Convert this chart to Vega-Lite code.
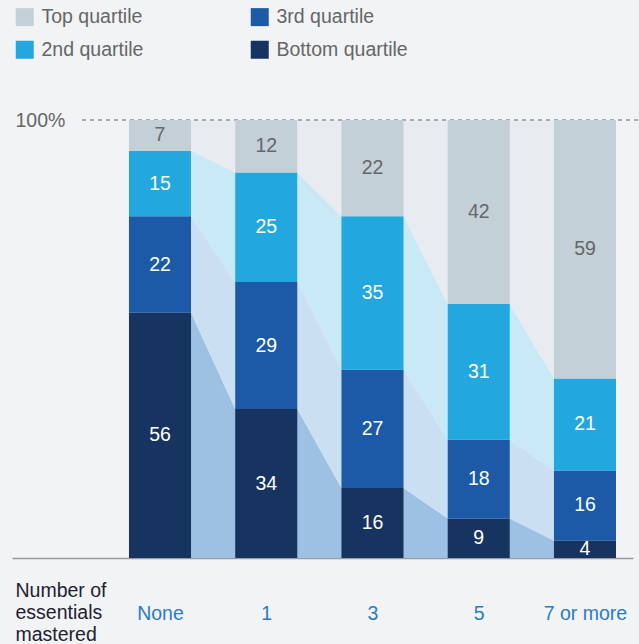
{
  "$schema": "https://vega.github.io/schema/vega-lite/v6.json",
  "width": 621,
  "height": 438,
  "autosize": "none",
  "padding": {"left": 12, "top": 120, "right": 6, "bottom": 86},
  "background": "#f2f3f5",
  "config": {"view": {"stroke": null}, "font": "Liberation Sans"},
  "data": {
    "values": [
      {"cat": "None", "i": 0, "q": "Bottom quartile", "r": 1, "v": 56},
      {"cat": "None", "i": 0, "q": "3rd quartile", "r": 2, "v": 22},
      {"cat": "None", "i": 0, "q": "2nd quartile", "r": 3, "v": 15},
      {"cat": "None", "i": 0, "q": "Top quartile", "r": 4, "v": 7},
      {"cat": "1", "i": 1, "q": "Bottom quartile", "r": 1, "v": 34},
      {"cat": "1", "i": 1, "q": "3rd quartile", "r": 2, "v": 29},
      {"cat": "1", "i": 1, "q": "2nd quartile", "r": 3, "v": 25},
      {"cat": "1", "i": 1, "q": "Top quartile", "r": 4, "v": 12},
      {"cat": "3", "i": 2, "q": "Bottom quartile", "r": 1, "v": 16},
      {"cat": "3", "i": 2, "q": "3rd quartile", "r": 2, "v": 27},
      {"cat": "3", "i": 2, "q": "2nd quartile", "r": 3, "v": 35},
      {"cat": "3", "i": 2, "q": "Top quartile", "r": 4, "v": 22},
      {"cat": "5", "i": 3, "q": "Bottom quartile", "r": 1, "v": 9},
      {"cat": "5", "i": 3, "q": "3rd quartile", "r": 2, "v": 18},
      {"cat": "5", "i": 3, "q": "2nd quartile", "r": 3, "v": 31},
      {"cat": "5", "i": 3, "q": "Top quartile", "r": 4, "v": 42},
      {"cat": "7 or more", "i": 4, "q": "Bottom quartile", "r": 1, "v": 4},
      {"cat": "7 or more", "i": 4, "q": "3rd quartile", "r": 2, "v": 16},
      {"cat": "7 or more", "i": 4, "q": "2nd quartile", "r": 3, "v": 21},
      {"cat": "7 or more", "i": 4, "q": "Top quartile", "r": 4, "v": 59}
    ]
  },
  "transform": [
    {"stack": "v", "groupby": ["cat"], "sort": [{"field": "r", "order": "ascending"}], "as": ["y0", "y1"]},
    {"calculate": "datum.i - 0.292", "as": "xl"},
    {"calculate": "datum.i + 0.292", "as": "xr"},
    {"calculate": "(datum.y0 + datum.y1) / 2", "as": "ym"}
  ],
  "layer": [
    {
      "transform": [{"fold": ["xl", "xr"], "as": ["side", "xe"]}],
      "mark": {"type": "area", "opacity": 1},
      "encoding": {
        "x": {
          "field": "xe", "type": "quantitative",
          "scale": {"domain": [-1.393, 4.452], "nice": false, "zero": false},
          "axis": {
            "values": [0, 1, 2, 3, 4],
            "labelExpr": "['None','1','3','5','7 or more'][datum.value]",
            "ticks": false, "grid": false,
            "domainColor": "#9a9a9a", "domainWidth": 1.5,
            "labelPadding": 46, "labelFontSize": 19.5, "labelColor": "#2b7bc6",
            "title": ["Number of", "essentials", "mastered"],
            "titleX": 3, "titleY": 23, "titleAlign": "left", "titleAnchor": "start",
            "titleBaseline": "top", "titleFontWeight": "normal", "titleFontSize": 19.5,
            "titleColor": "#1d2233", "titleLineHeight": 22
          }
        },
        "y": {
          "field": "y1", "type": "quantitative",
          "scale": {"domain": [0, 100], "nice": false},
          "axis": {
            "values": [100], "labelExpr": "'100%'", "grid": false, "domain": false,
            "ticks": false, "labelAlign": "left", "labelPadding": -3,
            "labelFontSize": 19.5, "labelColor": "#666666", "title": null
          }
        },
        "y2": {"field": "y0"},
        "color": {
          "field": "q", "type": "nominal",
          "scale": {
            "domain": ["Top quartile", "3rd quartile", "2nd quartile", "Bottom quartile"],
            "range": ["#e8ecf0", "#cadff2", "#c9e9f6", "#9cc1e3"]
          },
          "legend": null
        }
      }
    },
    {
      "mark": {"type": "rule", "strokeDash": [4, 4], "color": "#aaaaaa", "strokeWidth": 1, "clip": false},
      "encoding": {
        "x": {"datum": -0.734},
        "x2": {"datum": 4.508},
        "y": {"datum": 100}
      }
    },
    {
      "mark": {"type": "rect"},
      "encoding": {
        "x": {"field": "xl", "type": "quantitative"},
        "x2": {"field": "xr"},
        "y": {"field": "y1", "type": "quantitative"},
        "y2": {"field": "y0"},
        "color": {
          "field": "q", "type": "nominal",
          "scale": {
            "domain": ["Top quartile", "3rd quartile", "2nd quartile", "Bottom quartile"],
            "range": ["#c4d0d7", "#1c5aa8", "#22a7de", "#17335f"]
          },
          "legend": {
            "orient": "none", "legendX": 3, "legendY": -113,
            "columns": 2, "direction": "horizontal",
            "symbolType": "square", "symbolSize": 324, "symbolStrokeWidth": 0,
            "symbolOpacity": 1,
            "labelFontSize": 19.5, "labelColor": "#666666", "labelOffset": 7,
            "labelLimit": 300,
            "columnPadding": 106, "rowPadding": 12, "title": null, "padding": 0
          }
        }
      }
    },
    {
      "mark": {"type": "text", "fontSize": 19.5, "baseline": "middle", "align": "center"},
      "encoding": {
        "x": {"field": "i", "type": "quantitative"},
        "y": {"field": "ym", "type": "quantitative"},
        "text": {"field": "v", "type": "quantitative"},
        "fill": {
          "condition": {"test": "datum.q === 'Top quartile'", "value": "#666666"},
          "value": "#ffffff"
        }
      }
    }
  ],
  "resolve": {"scale": {"color": "independent"}}
}
